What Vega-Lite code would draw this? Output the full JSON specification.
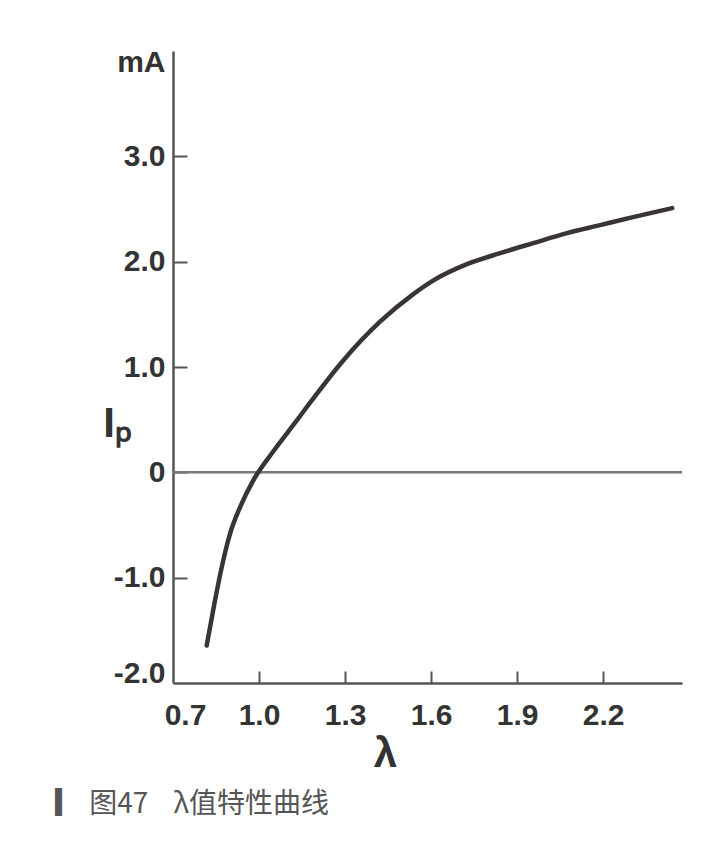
{
  "$schema": "https://vega.github.io/schema/vega-lite/v6.json",
  "width": 509,
  "height": 632,
  "autosize": {"type": "none"},
  "padding": {"left": 173, "top": 51, "right": 26, "bottom": 163},
  "background": "#ffffff",
  "title": {
    "text": "▎\u00a0图47\u00a0\u00a0\u00a0\u00a0λ值特性曲线",
    "orient": "bottom",
    "anchor": "start",
    "frame": "group",
    "dx": -118,
    "offset": 17,
    "font": "Noto Sans CJK SC",
    "fontSize": 28,
    "fontWeight": "normal",
    "color": "#555555"
  },
  "config": {
    "view": {"stroke": null},
    "axis": {
      "grid": false,
      "domainColor": "#555555",
      "domainWidth": 2.5,
      "tickColor": "#555555",
      "tickWidth": 2,
      "labelFont": "Liberation Sans",
      "labelFontWeight": "bold",
      "labelFontSize": 30,
      "labelColor": "#333333",
      "titleColor": "#333333"
    }
  },
  "layer": [
    {
      "data": {"values": [{"level": 0}]},
      "mark": {"type": "rule", "color": "#777777", "strokeWidth": 2.5},
      "encoding": {
        "y": {"field": "level", "type": "quantitative", "scale": {"domain": [-2, 4]}}
      }
    },
    {
      "data": {
        "values": [
          {"lambda": 0.8175, "ip": -1.644},
          {"lambda": 0.8465, "ip": -1.216},
          {"lambda": 0.870, "ip": -0.900},
          {"lambda": 0.899, "ip": -0.582},
          {"lambda": 0.934, "ip": -0.330},
          {"lambda": 0.980, "ip": -0.076},
          {"lambda": 1.050, "ip": 0.200},
          {"lambda": 1.131, "ip": 0.490},
          {"lambda": 1.186, "ip": 0.690},
          {"lambda": 1.293, "ip": 1.060},
          {"lambda": 1.422, "ip": 1.430},
          {"lambda": 1.537, "ip": 1.690},
          {"lambda": 1.607, "ip": 1.820},
          {"lambda": 1.725, "ip": 1.976},
          {"lambda": 1.841, "ip": 2.081},
          {"lambda": 1.956, "ip": 2.176},
          {"lambda": 2.074, "ip": 2.271},
          {"lambda": 2.189, "ip": 2.347},
          {"lambda": 2.304, "ip": 2.423},
          {"lambda": 2.441, "ip": 2.508}
        ]
      },
      "mark": {"type": "line", "color": "#3a3434", "strokeWidth": 4.5, "interpolate": "monotone", "strokeCap": "round"},
      "encoding": {
        "x": {
          "field": "lambda",
          "type": "quantitative",
          "scale": {"domain": [0.7, 2.475], "nice": false, "zero": false},
          "axis": {
            "values": [0.7, 1.0, 1.3, 1.6, 1.9, 2.2],
            "format": ".1f",
            "labelFlush": false,
            "tickSize": -12,
            "labelPadding": 29,
            "labelOffset": {"condition": {"test": "datum.value < 0.75", "value": 12}, "value": 0},
            "tickOpacity": {"condition": {"test": "datum.value < 0.75", "value": 0}, "value": 1},
            "title": "λ",
            "titleFont": "Liberation Sans",
            "titleFontSize": 42,
            "titleFontWeight": "bold",
            "titleX": 212,
            "titleY": 70,
            "titleAlign": "center",
            "titleBaseline": "middle"
          }
        },
        "y": {
          "field": "ip",
          "type": "quantitative",
          "scale": {"domain": [-2, 4], "nice": false, "zero": false},
          "axis": {
            "values": [-2, -1, 0, 1, 2, 3, 4],
            "labelExpr": "datum.value == 4 ? 'mA' : (datum.value == 0 ? '0' : replace(format(datum.value, '.1f'), '−', '-'))",
            "labelFlush": true,
            "tickSize": -14,
            "labelPadding": 22,
            "labelOffset": {"condition": [{"test": "datum.value > 3.5", "value": -4}, {"test": "datum.value < -1.5", "value": 5}], "value": 0},
            "tickOpacity": {"condition": {"test": "datum.value > 3.5 || datum.value < -1.5", "value": 0}, "value": 1},
            "title": "Iₚ",
            "titleFont": "Liberation Sans",
            "titleFontSize": 42,
            "titleFontWeight": "bold",
            "titleAngle": 0,
            "titleX": -56,
            "titleY": 372,
            "titleAlign": "center",
            "titleBaseline": "middle"
          }
        }
      }
    }
  ]
}
